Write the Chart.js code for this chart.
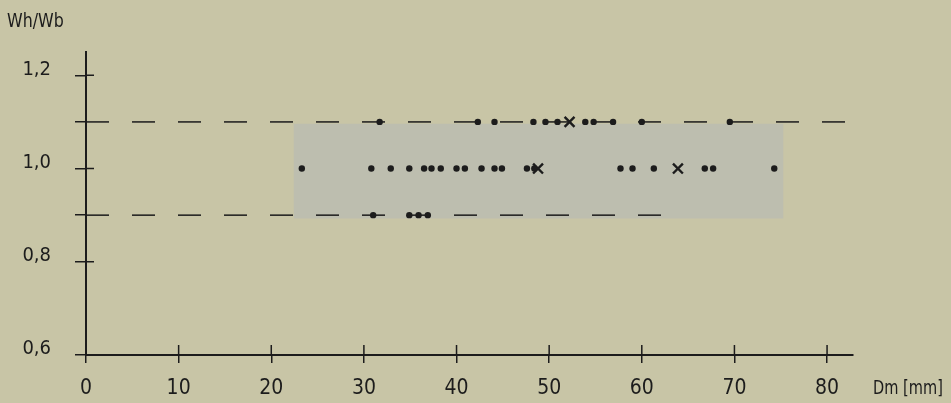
<!DOCTYPE html>
<html>
<head>
<meta charset="utf-8">
<script src="https://cdn.jsdelivr.net/npm/chart.js@4"></script>
<style>
  html, body { margin: 0; padding: 0; background: #c8c5a6; }
  canvas { display: block; }
</style>
</head>
<body>
<canvas id="chart" width="951" height="403"></canvas>
<script>
// axis ticks
const xTicks = [0, 10, 20, 30, 40, 50, 60, 70, 80];
const yTicks = [0.6, 0.8, 0.9, 1.0, 1.1, 1.2];
const yTickLabels = ['0,6', '0,8', '', '1,0', '', '1,2'];
const yCrossTicks = [0.8, 1.0, 1.2];

// measured points, Dm in mm, one list per Wh/Wb row
const row11Dots = [31.7, 42.3, 44.1, 48.3, 49.6, 50.9, 53.9, 54.8, 56.9, 60.0, 69.5];
const row11Cross = [52.2];
const row10Dots = [23.3, 30.8, 32.9, 34.9, 36.5, 37.3, 38.3, 40.0, 40.9, 42.7, 44.1, 44.9, 47.6, 48.4, 57.7, 59.0, 61.3, 66.8, 67.7, 74.3];
const row10Cross = [48.8, 63.9];
const row09Dots = [31.0, 34.9, 35.9, 36.9];

// tolerance lines and shaded band
const upperLimit = 1.1, upperLimitX = [0, 82.8];
const lowerLimit = 0.9, lowerLimitX = [0, 62.9];
const bandX = [22.4, 75.3];
const bandTop = 1.096, bandBottom = 0.893;

const ink = '#1c1c1c';
const font = '"DejaVu Sans Condensed", "DejaVu Sans", sans-serif';

const pts = (xs, y) => xs.map(x => ({ x: x, y: y }));

const dotStyle = { type: 'scatter', showLine: false, pointRadius: 3.2, pointBackgroundColor: ink, pointBorderColor: ink, pointBorderWidth: 0, order: 0 };
const crossStyle = { type: 'scatter', showLine: false, pointStyle: 'crossRot', pointRadius: 7, pointBorderColor: ink, pointBorderWidth: 2.4, order: 0 };
const dashStyle = { type: 'line', borderColor: ink, borderWidth: 1.5, borderDash: [23, 23], pointRadius: 0, fill: false, order: 1 };

// narrow text, the print uses a condensed DIN face
function narrowText(ctx, text, x, y, size, sx) {
    ctx.save();
    ctx.translate(x, y);
    ctx.scale(sx, 1);
    ctx.font = size + 'px ' + font;
    ctx.fillText(text, 0, 0);
    ctx.restore();
}

const extras = {
    id: 'extras',
    afterDraw(chart) {
        const { ctx, chartArea: a, scales: { x, y } } = chart;
        ctx.save();
        ctx.strokeStyle = ink;
        ctx.lineWidth = 1.5;
        ctx.beginPath();
        xTicks.forEach(v => {
            if (v === 0) return;
            const px = x.getPixelForValue(v);
            ctx.moveTo(px, a.bottom);
            ctx.lineTo(px, a.bottom - 10);
        });
        yCrossTicks.forEach(v => {
            const py = y.getPixelForValue(v);
            ctx.moveTo(a.left, py);
            ctx.lineTo(a.left + 8, py);
        });
        ctx.stroke();

        // axis names
        ctx.fillStyle = ink;
        ctx.textBaseline = 'middle';
        narrowText(ctx, 'Dm [mm]', a.right + 20, a.bottom + 34, 20, 0.81);
        narrowText(ctx, 'Wh/Wb', 7, 22, 20, 0.88);
        ctx.restore();
    }
};

new Chart(document.getElementById('chart'), {
    data: {
        datasets: [
            { type: 'line', data: pts(bandX, bandTop), borderWidth: 0, pointRadius: 0, backgroundColor: '#bdbeaf', fill: '+1', order: 5 },
            { type: 'line', data: pts(bandX, bandBottom), borderWidth: 0, pointRadius: 0, fill: false, order: 5 },
            { ...dashStyle, data: pts(upperLimitX, upperLimit) },
            { ...dashStyle, data: pts(lowerLimitX, lowerLimit) },
            { ...dotStyle, data: pts(row11Dots, 1.1) },
            { ...dotStyle, data: pts(row10Dots, 1.0) },
            { ...dotStyle, data: pts(row09Dots, 0.9) },
            { ...crossStyle, data: pts(row11Cross, 1.1) },
            { ...crossStyle, data: pts(row10Cross, 1.0) }
        ]
    },
    options: {
        responsive: false,
        animation: false,
        layout: { padding: { top: 52, right: 98, left: 0, bottom: 0 } },
        plugins: { legend: { display: false }, tooltip: { enabled: false } },
        scales: {
            x: {
                type: 'linear',
                min: 0,
                max: 82.8,
                afterBuildTicks: s => { s.ticks = xTicks.map(v => ({ value: v })); },
                afterFit: s => { s.height = 48; },
                border: { display: true, color: ink, width: 2 },
                grid: { display: true, drawOnChartArea: false, drawTicks: true, tickLength: 8, color: ink, lineWidth: 1.5 },
                ticks: { color: ink, padding: 13, maxRotation: 0, font: { family: font, size: 21 }, callback: v => String(v) }
            },
            y: {
                type: 'linear',
                min: 0.6,
                max: 1.25,
                afterBuildTicks: s => { s.ticks = yTicks.map(v => ({ value: v })); },
                afterFit: s => { s.width = 86; },
                border: { display: true, color: ink, width: 2 },
                grid: { display: true, drawOnChartArea: false, drawTicks: true, tickLength: 11, color: ink, lineWidth: 1.5 },
                ticks: { color: ink, padding: 24, labelOffset: -6, font: { family: font, size: 20 }, callback: (v, i) => yTickLabels[i] }
            }
        }
    },
    plugins: [extras]
});
</script>
</body>
</html>
